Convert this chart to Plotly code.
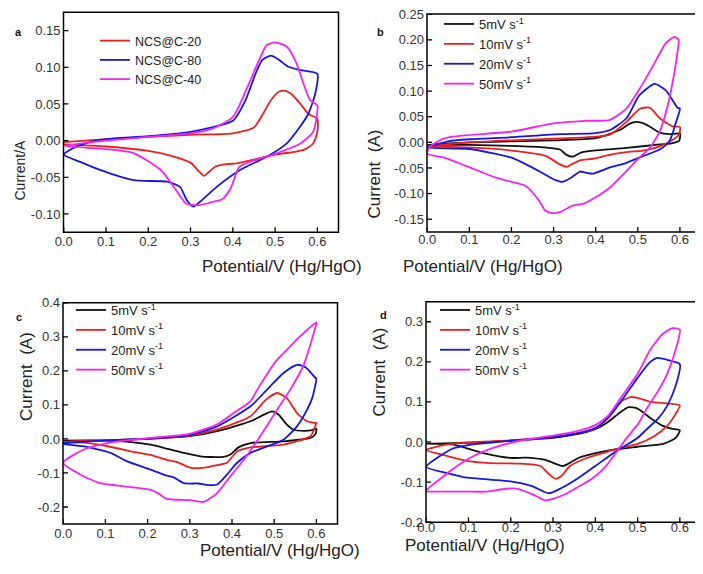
import plotly.graph_objects as go

# ---------------- data (potential V, current A), closed CV loops ----------------
# Panel a
a_c20_v = [0, 0.1, 0.2, 0.3, 0.4, 0.45, 0.47, 0.49, 0.51, 0.525, 0.54, 0.56, 0.58, 0.6,
           0.6, 0.59, 0.57, 0.55, 0.5, 0.45, 0.41, 0.386, 0.36, 0.345, 0.332, 0.32, 0.3, 0.25, 0.2, 0.1, 0]
a_c20_i = [-0.002, 0.002, 0.005, 0.008, 0.01, 0.018, 0.035, 0.055, 0.067, 0.068, 0.063, 0.05, 0.036, 0.03,
           0.012, -0.004, -0.012, -0.015, -0.019, -0.026, -0.031, -0.032, -0.035, -0.042, -0.048, -0.042, -0.03, -0.02, -0.014, -0.008, -0.005]
a_c80_v = [0, 0.03, 0.07, 0.1, 0.2, 0.3, 0.35, 0.4, 0.43, 0.455, 0.47, 0.49, 0.51, 0.53, 0.56, 0.6,
           0.595, 0.579, 0.559, 0.527, 0.48, 0.417, 0.362, 0.323, 0.307, 0.291, 0.275, 0.244, 0.165, 0.086, 0.039, 0]
a_c80_i = [-0.019, -0.008, -0.001, 0.002, 0.006, 0.012, 0.018, 0.027, 0.055, 0.093, 0.11, 0.116, 0.11, 0.101, 0.096, 0.091,
           0.064, 0.037, 0.019, -0.004, -0.022, -0.04, -0.063, -0.083, -0.09, -0.081, -0.063, -0.056, -0.054, -0.04, -0.029, -0.019]
a_c40_v = [0, 0.1, 0.2, 0.3, 0.35, 0.4, 0.433, 0.464, 0.48, 0.5, 0.528, 0.551, 0.567, 0.583, 0.6,
           0.599, 0.59, 0.56, 0.5, 0.45, 0.415, 0.395, 0.375, 0.35, 0.32, 0.29, 0.26, 0.23, 0.165, 0.09, 0]
a_c40_i = [-0.007, 0.0, 0.005, 0.01, 0.016, 0.032, 0.071, 0.112, 0.13, 0.134, 0.128, 0.105, 0.078, 0.055, 0.048,
           0.035, 0.012, -0.004, -0.018, -0.027, -0.036, -0.065, -0.08, -0.084, -0.088, -0.086, -0.063, -0.04, -0.017, -0.011, -0.007]

# Panel b
b_5_v = [0, 0.1, 0.2, 0.3, 0.4, 0.457, 0.48, 0.496, 0.51, 0.528, 0.552, 0.575, 0.6,
         0.598, 0.58, 0.552, 0.473, 0.394, 0.365, 0.345, 0.33, 0.315, 0.28, 0.2, 0.1, 0]
b_5_i = [-0.005, 0.0, 0.002, 0.004, 0.008, 0.024, 0.036, 0.04, 0.038, 0.031, 0.019, 0.016, 0.017,
         0.003, -0.002, -0.004, -0.011, -0.016, -0.02, -0.028, -0.024, -0.014, -0.01, -0.007, -0.005, -0.005]
b_10_v = [0, 0.1, 0.2, 0.315, 0.4, 0.434, 0.473, 0.504, 0.52, 0.53, 0.552, 0.583, 0.6,
          0.598, 0.583, 0.552, 0.512, 0.473, 0.43, 0.394, 0.363, 0.345, 0.331, 0.315, 0.28, 0.2, 0.1, 0]
b_10_i = [-0.007, 0.0, 0.004, 0.0075, 0.011, 0.015, 0.04, 0.065, 0.068, 0.067, 0.047, 0.031, 0.03,
          0.015, 0.005, -0.008, -0.016, -0.019, -0.025, -0.032, -0.035, -0.042, -0.048, -0.043, -0.026, -0.016, -0.01, -0.008]
b_20_v = [0, 0.05, 0.1, 0.2, 0.315, 0.4, 0.434, 0.473, 0.504, 0.54, 0.567, 0.595, 0.6,
          0.591, 0.575, 0.552, 0.512, 0.473, 0.434, 0.394, 0.375, 0.363, 0.34, 0.32, 0.3, 0.265, 0.2, 0.1, 0]
b_20_i = [-0.01, 0.002, 0.006, 0.01, 0.016, 0.018, 0.024, 0.047, 0.092, 0.114, 0.101, 0.067, 0.066,
          0.04, 0.002, -0.014, -0.027, -0.04, -0.049, -0.061, -0.059, -0.057, -0.07, -0.077, -0.072, -0.056, -0.03, -0.013, -0.01]
b_50_v = [0, 0.005, 0.03, 0.06, 0.2, 0.3, 0.375, 0.434, 0.473, 0.504, 0.536, 0.567, 0.587, 0.597,
          0.595, 0.587, 0.571, 0.552, 0.528, 0.504, 0.473, 0.434, 0.394, 0.37, 0.347, 0.315, 0.297, 0.28, 0.265,
          0.234, 0.2, 0.163, 0.092, 0.04, 0]
b_50_i = [-0.022, -0.01, 0.004, 0.011, 0.021, 0.037, 0.042, 0.044, 0.066, 0.104, 0.149, 0.194, 0.206, 0.2,
          0.181, 0.137, 0.072, 0.021, -0.011, -0.03, -0.056, -0.088, -0.11, -0.12, -0.123, -0.136, -0.138, -0.133, -0.113,
          -0.085, -0.077, -0.069, -0.046, -0.03, -0.022]

# Panel c
c_5_v = [0, 0.1, 0.207, 0.3, 0.365, 0.444, 0.47, 0.495, 0.51, 0.53, 0.546, 0.57, 0.59, 0.6,
         0.598, 0.586, 0.522, 0.444, 0.416, 0.396, 0.38, 0.35, 0.325, 0.286, 0.25, 0.207, 0.15, 0.1, 0]
c_5_i = [-0.005, -0.004, 0.001, 0.008, 0.023, 0.052, 0.068, 0.081, 0.072, 0.042, 0.027, 0.024, 0.026, 0.03,
         0.015, 0.003, -0.007, -0.012, -0.024, -0.046, -0.053, -0.053, -0.051, -0.041, -0.03, -0.017, -0.008, -0.005, -0.005]
c_10_v = [0, 0.1, 0.207, 0.3, 0.365, 0.444, 0.48, 0.507, 0.53, 0.554, 0.578, 0.598, 0.6,
          0.595, 0.586, 0.522, 0.444, 0.412, 0.388, 0.365, 0.33, 0.3, 0.27, 0.246, 0.207, 0.167, 0.1, 0.05, 0]
c_10_i = [-0.008, -0.004, 0.001, 0.01, 0.028, 0.067, 0.115, 0.135, 0.12, 0.076, 0.052, 0.047, 0.048,
          0.03, 0.008, -0.017, -0.025, -0.037, -0.07, -0.077, -0.085, -0.084, -0.068, -0.062, -0.047, -0.038, -0.02, -0.011, -0.008]
c_20_v = [0, 0.1, 0.207, 0.3, 0.365, 0.444, 0.483, 0.522, 0.554, 0.575, 0.598, 0.6,
          0.59, 0.578, 0.554, 0.522, 0.483, 0.444, 0.412, 0.388, 0.365, 0.349, 0.32, 0.286, 0.262, 0.246, 0.207, 0.15,
          0.112, 0.05, 0]
c_20_i = [-0.012, -0.004, 0.001, 0.012, 0.037, 0.096, 0.145, 0.194, 0.218, 0.21, 0.179, 0.178,
          0.12, 0.086, 0.037, -0.002, -0.022, -0.041, -0.07, -0.105, -0.134, -0.136, -0.131, -0.13, -0.113, -0.108, -0.09,
          -0.065, -0.041, -0.022, -0.015]
c_50_v = [0, 0.049, 0.104, 0.167, 0.207, 0.3, 0.365, 0.404, 0.444, 0.46, 0.507, 0.523, 0.56, 0.6,
          0.6, 0.57, 0.538, 0.507, 0.467, 0.428, 0.396, 0.365, 0.333, 0.3, 0.246, 0.225, 0.207, 0.15, 0.088, 0.041, 0]
c_50_i = [-0.07, -0.031, -0.012, -0.002, 0.003, 0.015, 0.043, 0.076, 0.111, 0.145, 0.233, 0.253, 0.3, 0.343,
          0.34, 0.218, 0.145, 0.086, 0.008, -0.061, -0.11, -0.159, -0.185, -0.18, -0.176, -0.16, -0.149, -0.14, -0.13, -0.105, -0.07]

# Panel d
d_5_v = [0, 0.1, 0.2, 0.3, 0.35, 0.4, 0.43, 0.46, 0.479, 0.5, 0.53, 0.56, 0.58, 0.6,
         0.59, 0.56, 0.5, 0.45, 0.4, 0.36, 0.335, 0.322, 0.3, 0.282, 0.235, 0.203, 0.14, 0.085, 0.062, 0]
d_5_i = [-0.005, -0.002, 0.003, 0.01, 0.018, 0.032, 0.05, 0.075, 0.087, 0.083, 0.06, 0.04, 0.033, 0.029,
         0.01, -0.005, -0.012, -0.018, -0.028, -0.04, -0.055, -0.06, -0.052, -0.045, -0.039, -0.04, -0.029, -0.012, -0.006, -0.004]
d_10_v = [0, 0.05, 0.1, 0.2, 0.3, 0.35, 0.4, 0.43, 0.46, 0.483, 0.5, 0.53, 0.56, 0.6,
          0.59, 0.57, 0.54, 0.5, 0.46, 0.42, 0.38, 0.34, 0.32, 0.306, 0.29, 0.27, 0.219, 0.15, 0.1, 0.05, 0]
d_10_i = [-0.02, -0.006, -0.001, 0.004, 0.012, 0.02, 0.033, 0.06, 0.1, 0.112, 0.11, 0.1, 0.097, 0.091,
          0.07, 0.04, 0.015, -0.005, -0.015, -0.027, -0.04, -0.06, -0.085, -0.092, -0.08, -0.06, -0.054, -0.053, -0.048, -0.035, -0.02]
d_20_v = [0, 0.062, 0.1, 0.15, 0.2, 0.3, 0.35, 0.4, 0.43, 0.46, 0.5, 0.53, 0.547, 0.57, 0.6,
          0.59, 0.57, 0.55, 0.52, 0.5, 0.47, 0.44, 0.4, 0.36, 0.32, 0.29, 0.25, 0.203, 0.15, 0.085, 0.05, 0]
d_20_i = [-0.062, -0.017, -0.008, -0.002, 0.003, 0.012, 0.02, 0.035, 0.06, 0.1, 0.16, 0.2, 0.21, 0.205, 0.194,
          0.14, 0.09, 0.06, 0.03, 0.01, -0.01, -0.03, -0.06, -0.09, -0.115, -0.128, -0.11, -0.099, -0.094, -0.087, -0.078, -0.062]
d_50_v = [0, 0.03, 0.06, 0.1, 0.15, 0.2, 0.25, 0.3, 0.35, 0.4, 0.43, 0.46, 0.5, 0.53, 0.56, 0.582, 0.6,
          0.59, 0.57, 0.55, 0.52, 0.503, 0.47, 0.424, 0.393, 0.36, 0.33, 0.3, 0.282, 0.25, 0.211, 0.18, 0.14, 0.1, 0.05, 0]
d_50_i = [-0.122, -0.095, -0.07, -0.042, -0.018, -0.002, 0.008, 0.016, 0.025, 0.042, 0.065, 0.11, 0.17, 0.23, 0.27, 0.284, 0.28,
          0.23, 0.17, 0.13, 0.08, 0.048, 0.004, -0.062, -0.091, -0.112, -0.13, -0.142, -0.146, -0.13, -0.116, -0.118, -0.124, -0.124, -0.124, -0.122]

# Legend labels, tick values and tick labels
a_names = ["NCS@C-20", "NCS@C-80", "NCS@C-40"]
rate_names = ["5mV s<sup>-1</sup>", "10mV s<sup>-1</sup>", "20mV s<sup>-1</sup>", "50mV s<sup>-1</sup>"]
x_ticks = [0.0, 0.1, 0.2, 0.3, 0.4, 0.5, 0.6]
x_ticktext = ["0.0", "0.1", "0.2", "0.3", "0.4", "0.5", "0.6"]
a_y_ticks = [-0.10, -0.05, 0.00, 0.05, 0.10, 0.15]
a_y_ticktext = ["-0.10", "-0.05", "0.00", "0.05", "0.10", "0.15"]
b_y_ticks = [-0.15, -0.10, -0.05, 0.00, 0.05, 0.10, 0.15, 0.20, 0.25]
b_y_ticktext = ["-0.15", "-0.10", "-0.05", "0.00", "0.05", "0.10", "0.15", "0.20", "0.25"]
c_y_ticks = [-0.2, -0.1, 0.0, 0.1, 0.2, 0.3, 0.4]
c_y_ticktext = ["-0.2", "-0.1", "0.0", "0.1", "0.2", "0.3", "0.4"]
d_y_ticks = [-0.2, -0.1, 0.0, 0.1, 0.2, 0.3]
d_y_ticktext = ["-0.2", "-0.1", "0.0", "0.1", "0.2", "0.3"]

# ---------------- figure ----------------
OFF = 8                      # page body margin in the viewer
W, H = 703 - OFF, 574 - OFF  # figure size so it fills the window
RED, BLUE, MAG, BLK = "#ee1f1f", "#1515e6", "#f522f5", "#111111"
FONT = "Arial, Liberation Sans, sans-serif"

fig = go.Figure()

def add(v, i, name, color, xa, ya, legend):
    fig.add_trace(go.Scatter(x=v, y=i, name=name, mode="lines",
                             line=dict(color=color, width=1.8, shape="spline", smoothing=0.6),
                             xaxis=xa, yaxis=ya, legend=legend))

add(a_c20_v, a_c20_i, a_names[0], RED, "x", "y", "legend")
add(a_c80_v, a_c80_i, a_names[1], BLUE, "x", "y", "legend")
add(a_c40_v, a_c40_i, a_names[2], MAG, "x", "y", "legend")

for (v, i), n, c in zip([(b_5_v, b_5_i), (b_10_v, b_10_i), (b_20_v, b_20_i), (b_50_v, b_50_i)], rate_names, [BLK, RED, BLUE, MAG]):
    add(v, i, n, c, "x2", "y2", "legend2")
for (v, i), n, c in zip([(c_5_v, c_5_i), (c_10_v, c_10_i), (c_20_v, c_20_i), (c_50_v, c_50_i)], rate_names, [BLK, RED, BLUE, MAG]):
    add(v, i, n, c, "x3", "y3", "legend3")
for (v, i), n, c in zip([(d_5_v, d_5_i), (d_10_v, d_10_i), (d_20_v, d_20_i), (d_50_v, d_50_i)], rate_names, [BLK, RED, BLUE, MAG]):
    add(v, i, n, c, "x4", "y4", "legend4")

# page-pixel -> paper coordinates
def px(x):
    return (x - OFF) / W

def py(y):
    return 1 - (y - OFF) / H

axis_common = dict(showline=False, ticks="", showgrid=False, zeroline=False, automargin=False,
                   ticklabeloverflow="allow",
                   tickfont=dict(family=FONT, size=13, color="#333333"))

# plot boxes (page pixels): left, right, top, bottom
boxes = {
    "a": (63.5, 338.5, 12.3, 232.3),
    "b": (427, 701, 14, 232),
    "c": (63, 337.5, 302.7, 524),
    "d": (426, 701, 301.7, 522.3),
}
yranges = {"a": [-0.125, 0.175], "b": [-0.175, 0.2505], "c": [-0.25, 0.4005], "d": [-0.2005, 0.35]}
xstand = {"a": 0, "b": -2, "c": 0, "d": -4}
yt = {"a": (a_y_ticks, a_y_ticktext), "b": (b_y_ticks, b_y_ticktext),
      "c": (c_y_ticks, c_y_ticktext), "d": (d_y_ticks, d_y_ticktext)}
names = {"a": ("xaxis", "yaxis", "x", "y"), "b": ("xaxis2", "yaxis2", "x2", "y2"),
         "c": ("xaxis3", "yaxis3", "x3", "y3"), "d": ("xaxis4", "yaxis4", "x4", "y4")}

layout_axes = {}
shapes = []
TICK = 5.0
for k, (l, r, t, b) in boxes.items():
    xn, yn, xr, yr = names[k]
    layout_axes[xn] = dict(axis_common, domain=[px(l), px(r)], range=[-0.0005, 0.65], anchor=yr,
                           tickmode="array", tickvals=x_ticks, ticktext=x_ticktext,
                           ticklabelstandoff=xstand[k])
    layout_axes[yn] = dict(axis_common, domain=[py(b), py(t)], range=yranges[k], anchor=xr,
                           tickmode="array", tickvals=yt[k][0], ticktext=yt[k][1],
                           ticklabelstandoff=2)
    # plot frame
    shapes.append(dict(type="rect", xref=xr + " domain", yref=yr + " domain", x0=0, x1=1, y0=0, y1=1,
                       line=dict(color="black", width=1.5), fillcolor="rgba(0,0,0,0)", layer="above"))
    # inward tick marks on bottom and left axes
    for v in x_ticks:
        shapes.append(dict(type="line", xref=xr, yref=yr + " domain", x0=v, x1=v, y0=0, y1=TICK / (b - t),
                           line=dict(color="black", width=1.3), layer="above"))
    for v in yt[k][0]:
        shapes.append(dict(type="line", xref=xr + " domain", yref=yr, x0=0, x1=TICK / (r - l), y0=v, y1=v,
                           line=dict(color="black", width=1.3), layer="above"))

fig.update_layout(width=W, height=H, margin=dict(l=0, r=0, t=0, b=0, autoexpand=False),
                  paper_bgcolor="white", plot_bgcolor="white", shapes=shapes,
                  font=dict(family=FONT, color="#222222"), **layout_axes)

def leg(x, y, size):
    return dict(x=px(x), y=py(y), xanchor="left", yanchor="top", bgcolor="rgba(0,0,0,0)",
                borderwidth=0, font=dict(family=FONT, size=size, color="#222222"),
                itemwidth=30, tracegroupgap=0)

fig.update_layout(legend=leg(95, 26, 12.5), legend2=leg(439, 9, 13),
                  legend3=leg(71, 295, 13), legend4=leg(435, 295, 13))

ann = []
# panel letters
for txt, x, y in [("a", 13, 24), ("b", 381, 24), ("c", 14, 317), ("d", 383, 315)]:
    ann.append(dict(text="<b>%s</b>" % txt, x=px(x), y=py(y), xref="paper", yref="paper",
                    showarrow=False, font=dict(family=FONT, size=11, color="#111111")))
# x titles
for x, y in [(200, 267), (565, 267), (198, 562), (567, 557)]:
    ann.append(dict(text="Potential/V (Hg/HgO)", x=px(x), y=py(y), xref="paper", yref="paper",
                    showarrow=False, font=dict(family=FONT, size=17, color="#222222")))
# y titles
for txt, x, y, s in [("Current/A", 10, 138, 14), ("Current  (A)", 374, 128, 17),
                     ("Current  (A)", 15, 423, 17), ("Current  (A)", 379, 419, 17)]:
    ann.append(dict(text=txt.replace("  ", "&nbsp; "), x=px(x), y=py(y), xref="paper", yref="paper",
                    showarrow=False, textangle=-90, font=dict(family=FONT, size=s, color="#222222")))
fig.update_layout(annotations=ann)

fig.write_html("out.html")
